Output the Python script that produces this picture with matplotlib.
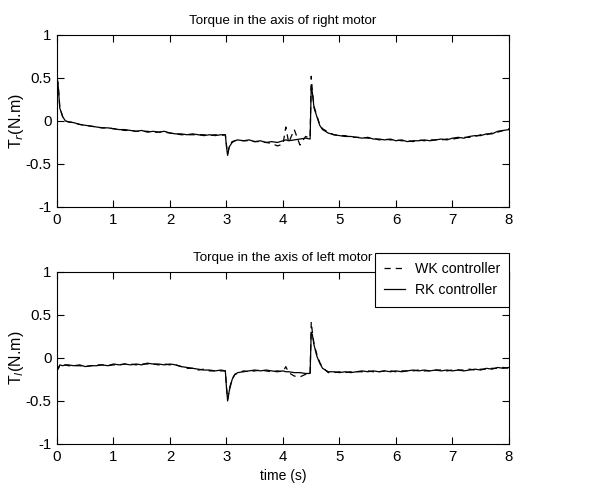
import numpy as np
import matplotlib
matplotlib.use('Agg')
import matplotlib.pyplot as plt

plt.rcParams['font.family'] = ['Liberation Sans', 'DejaVu Sans']

# tempo (s)
t = [0.0, 0.02, 0.05, 0.1, 0.15, 0.2, 0.3, 0.4, 0.5, 0.6, 0.7, 0.8, 0.9,
     1.0, 1.1, 1.2, 1.3, 1.4, 1.5, 1.6, 1.7, 1.8, 1.9, 2.0, 2.1, 2.2, 2.3,
     2.4, 2.5, 2.6, 2.7, 2.8, 2.9, 2.98, 3.0, 3.02, 3.05, 3.1, 3.15, 3.2,
     3.3, 3.4, 3.5, 3.6, 3.7, 3.8, 3.9, 4.0, 4.05, 4.1, 4.2, 4.3, 4.4, 4.48,
     4.5, 4.52, 4.55, 4.6, 4.65, 4.7, 4.8, 4.9, 5.0, 5.1, 5.2, 5.3, 5.4,
     5.5, 5.6, 5.7, 5.8, 5.9, 6.0, 6.1, 6.2, 6.3, 6.4, 6.5, 6.6, 6.7, 6.8,
     6.9, 7.0, 7.1, 7.2, 7.3, 7.4, 7.5, 7.6, 7.7, 7.8, 7.9, 8.0]

# motor direito
tr_rk = [0.50, 0.42, 0.15, 0.05, 0.00, -0.01, -0.02, -0.04, -0.05, -0.06, -0.07, -0.08, -0.08,
         -0.09, -0.10, -0.10, -0.11, -0.12, -0.11, -0.13, -0.12, -0.13, -0.12, -0.14, -0.15, -0.15, -0.16,
         -0.15, -0.16, -0.17, -0.16, -0.17, -0.16, -0.16, -0.30, -0.40, -0.30, -0.25, -0.23, -0.22,
         -0.23, -0.22, -0.24, -0.23, -0.25, -0.24, -0.25, -0.23, -0.22, -0.23, -0.22, -0.21, -0.20, -0.21,
         0.40, 0.33, 0.15, 0.05, -0.05, -0.10, -0.14, -0.16, -0.17, -0.18, -0.18, -0.19, -0.20,
         -0.19, -0.21, -0.21, -0.22, -0.21, -0.23, -0.22, -0.24, -0.23, -0.23, -0.22, -0.23, -0.22, -0.21,
         -0.22, -0.20, -0.19, -0.20, -0.18, -0.17, -0.17, -0.15, -0.15, -0.12, -0.11, -0.10]
tr_wk = [0.50, 0.44, 0.16, 0.05, 0.00, -0.01, -0.02, -0.04, -0.05, -0.06, -0.07, -0.08, -0.08,
         -0.09, -0.10, -0.11, -0.11, -0.12, -0.12, -0.12, -0.13, -0.13, -0.13, -0.14, -0.15, -0.16, -0.16,
         -0.16, -0.16, -0.16, -0.17, -0.16, -0.17, -0.16, -0.28, -0.38, -0.29, -0.24, -0.23, -0.22,
         -0.23, -0.23, -0.24, -0.24, -0.25, -0.26, -0.29, -0.27, -0.07, -0.25, -0.10, -0.28, -0.18, -0.20,
         0.52, 0.35, 0.17, 0.06, -0.04, -0.09, -0.13, -0.16, -0.17, -0.17, -0.19, -0.19, -0.19,
         -0.20, -0.20, -0.22, -0.21, -0.22, -0.22, -0.23, -0.23, -0.24, -0.22, -0.23, -0.22, -0.22, -0.22,
         -0.21, -0.21, -0.20, -0.19, -0.19, -0.18, -0.16, -0.16, -0.14, -0.13, -0.11, -0.09]

# motor esquerdo
tl_rk = [-0.08, -0.13, -0.08, -0.09, -0.08, -0.08, -0.09, -0.08, -0.10, -0.09, -0.09, -0.08, -0.09,
         -0.07, -0.08, -0.07, -0.08, -0.07, -0.08, -0.06, -0.07, -0.07, -0.08, -0.07, -0.08, -0.10, -0.11,
         -0.12, -0.13, -0.14, -0.14, -0.15, -0.14, -0.15, -0.35, -0.50, -0.38, -0.25, -0.19, -0.17,
         -0.16, -0.15, -0.14, -0.15, -0.14, -0.15, -0.16, -0.15, -0.16, -0.16, -0.17, -0.17, -0.18, -0.18,
         0.30, 0.27, 0.15, 0.02, -0.06, -0.12, -0.16, -0.16, -0.17, -0.16, -0.17, -0.16, -0.15,
         -0.16, -0.15, -0.16, -0.15, -0.16, -0.15, -0.16, -0.15, -0.14, -0.15, -0.14, -0.15, -0.14, -0.15,
         -0.14, -0.15, -0.14, -0.15, -0.14, -0.13, -0.14, -0.12, -0.13, -0.11, -0.12, -0.11]
tl_wk = [-0.08, -0.12, -0.09, -0.09, -0.08, -0.09, -0.09, -0.09, -0.10, -0.09, -0.08, -0.08, -0.09,
         -0.08, -0.08, -0.07, -0.07, -0.08, -0.07, -0.07, -0.07, -0.08, -0.07, -0.08, -0.08, -0.10, -0.12,
         -0.12, -0.14, -0.13, -0.15, -0.15, -0.15, -0.15, -0.33, -0.48, -0.36, -0.24, -0.19, -0.18,
         -0.15, -0.16, -0.15, -0.14, -0.15, -0.16, -0.15, -0.16, -0.10, -0.17, -0.21, -0.22, -0.19, -0.19,
         0.42, 0.30, 0.16, 0.04, -0.05, -0.11, -0.17, -0.17, -0.16, -0.17, -0.16, -0.16, -0.16,
         -0.15, -0.16, -0.16, -0.15, -0.15, -0.16, -0.15, -0.15, -0.15, -0.14, -0.15, -0.15, -0.14, -0.14,
         -0.15, -0.14, -0.14, -0.14, -0.13, -0.14, -0.13, -0.13, -0.12, -0.12, -0.11, -0.12]

fig = plt.figure(figsize=(6.03, 4.9), dpi=100)
ax = fig.add_axes([0.0945, 0.5776, 0.7496, 0.351])
ax2 = fig.add_axes([0.0945, 0.0939, 0.7496, 0.351])

for a, rk, wk in ((ax, tr_rk, tr_wk), (ax2, tl_rk, tl_wk)):
    a.plot(t, wk, 'k--', lw=0.9, dashes=(5, 4), label='WK controller')
    a.plot(t, rk, 'k-', lw=0.9, label='RK controller')
    a.set_xlim(0, 8)
    a.set_ylim(-1, 1)
    a.set_xticks(range(0, 9))
    a.set_yticks([-1, -0.5, 0, 0.5, 1])
    a.set_yticklabels(['-1', '-0.5', '0', '0.5', '1'])
    a.tick_params(direction='in', top=True, right=True, labelsize=10.8, length=5, pad=4)
    for s in a.spines.values():
        s.set_linewidth(0.8)

ax.set_title('Torque in the axis of right motor', fontsize=9.6, pad=8)
ax.set_ylabel('T$_r$(N.m)', fontsize=11.5, labelpad=0)
ax2.set_title('Torque in the axis of left motor', fontsize=9.6, pad=8)
ax2.set_ylabel('T$_l$(N.m)', fontsize=11.5, labelpad=0)
ax2.set_xlabel('time (s)', fontsize=10, labelpad=4)

leg = ax2.legend(loc='upper right', bbox_to_anchor=(1.0, 1.11), borderaxespad=0,
                 fontsize=10.2, fancybox=False, edgecolor='k', framealpha=1,
                 handlelength=1.5, handletextpad=0.65, labelspacing=0.5,
                 borderpad=0.65)
leg.get_frame().set_linewidth(0.8)

plt.savefig('out.png', dpi=100)
